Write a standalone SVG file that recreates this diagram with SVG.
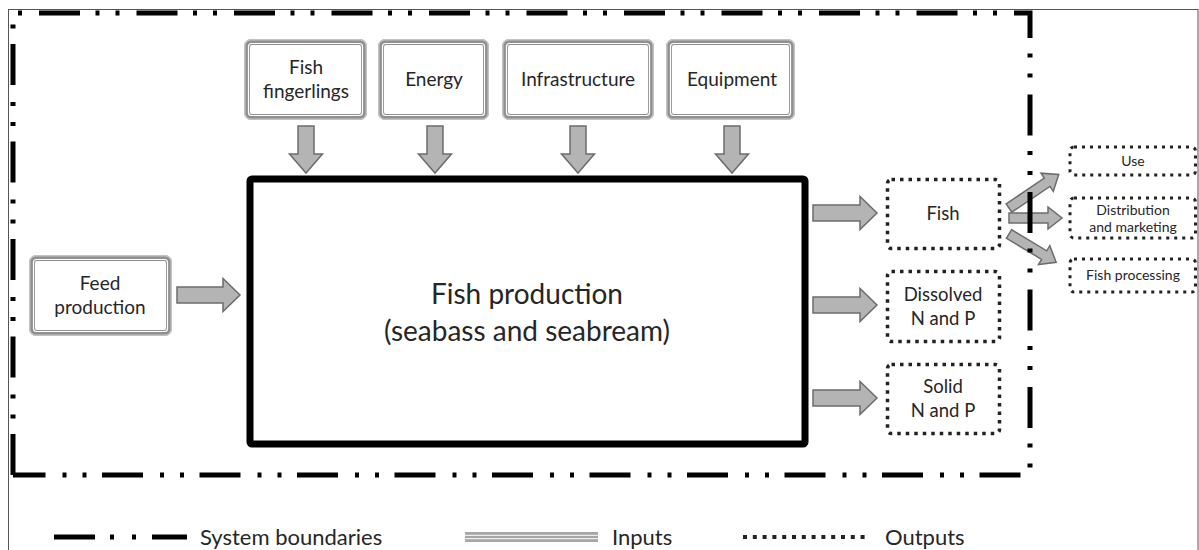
<svg xmlns="http://www.w3.org/2000/svg" width="1199" height="550" viewBox="0 0 1199 550">
<style>
  text { font-family: Lato, "Open Sans", "Liberation Sans", sans-serif; fill: #262626; text-anchor: middle; }
  .t19 { font-size: 19px; }
  .t18 { font-size: 18.5px; }
  .t14 { font-size: 14px; }
  .tmain { font-size: 28px; }
  .tleg { font-size: 22px; text-anchor: start; }
  .ibA { fill: #fff; stroke: #909090; stroke-width: 6; }
  .ibB { fill: none; stroke: #c2c2c2; stroke-width: 1.5; }
  .ibC { fill: none; stroke: #fff; stroke-width: 1.2; }
  .out { fill: #fff; stroke: #222; stroke-width: 3.5; stroke-dasharray: 3.5 5; }
  .outs { fill: #fff; stroke: #222; stroke-width: 3; stroke-dasharray: 3 5; }
  .arr { fill: #b4b4b4; stroke: #6c6c6c; stroke-width: 1.5; stroke-linejoin: miter; }
  .bnd { fill: none; stroke: #000; stroke-width: 5; stroke-dasharray: 41 15.5 4 16 4 17; }
</style>

<rect x="8.5" y="9.5" width="1189.5" height="560" fill="#fff" stroke="#555" stroke-width="1"/>

<g id="connectors">
  <polygon class="arr" points="298,126 314,126 314,154 322.5,154 306,173 289.5,154 298,154"/>
  <polygon class="arr" points="427,126 443,126 443,154 451.5,154 435,173 418.5,154 427,154"/>
  <polygon class="arr" points="570,126 586,126 586,154 594.5,154 578,173 561.5,154 570,154"/>
  <polygon class="arr" points="724,126 740,126 740,154 748.5,154 732,173 715.5,154 724,154"/>
  <polygon class="arr" points="177,287 223,287 223,278.5 240,295 223,311.5 223,303 177,303"/>
  <polygon class="arr" points="813,205 860,205 860,196.5 877,213 860,229.5 860,221 813,221"/>
  <polygon class="arr" points="813,297 860,297 860,288.5 877,305 860,321.5 860,313 813,313"/>
  <polygon class="arr" points="813,390 860,390 860,381.5 877,398 860,414.5 860,406 813,406"/>
  <polygon class="arr" transform="translate(1009,208) rotate(-34)" points="0,-5 46,-5 46,-11 60,0 46,11 46,5 0,5"/>
  <polygon class="arr" transform="translate(1009,218)" points="0,-5 39,-5 39,-11 53,0 39,11 39,5 0,5"/>
  <polygon class="arr" transform="translate(1009,234) rotate(31)" points="0,-5 41,-5 41,-11 55,0 41,11 41,5 0,5"/>
</g>

<g id="boundary">
  <path class="bnd" d="M13,13 H1030 V475 H13" stroke-dashoffset="71.5"/>
  <path class="bnd" d="M13,475 V13"/>
</g>

<g id="fish-fingerlings">
  <rect class="ibA" x="247" y="42" width="117" height="75" rx="5"/>
  <rect class="ibB" x="244.75" y="39.75" width="121.5" height="79.5" rx="6"/>
  <rect class="ibC" x="248.5" y="43.5" width="114" height="72" rx="3"/>
  <text class="t19" x="306" y="74">Fish</text>
  <text class="t19" x="306" y="98">fingerlings</text>
</g>
<g id="energy">
  <rect class="ibA" x="381" y="42" width="105" height="75" rx="5"/>
  <rect class="ibB" x="378.75" y="39.75" width="109.5" height="79.5" rx="6"/>
  <rect class="ibC" x="382.5" y="43.5" width="102" height="72" rx="3"/>
  <text class="t19" x="434" y="86">Energy</text>
</g>
<g id="infrastructure">
  <rect class="ibA" x="505" y="42" width="146" height="75" rx="5"/>
  <rect class="ibB" x="502.75" y="39.75" width="150.5" height="79.5" rx="6"/>
  <rect class="ibC" x="506.5" y="43.5" width="143" height="72" rx="3"/>
  <text class="t19" x="578" y="86">Infrastructure</text>
</g>
<g id="equipment">
  <rect class="ibA" x="669" y="42" width="123" height="75" rx="5"/>
  <rect class="ibB" x="666.75" y="39.75" width="127.5" height="79.5" rx="6"/>
  <rect class="ibC" x="670.5" y="43.5" width="120" height="72" rx="3"/>
  <text class="t19" x="732" y="86">Equipment</text>
</g>
<g id="feed-production">
  <rect class="ibA" x="32" y="258" width="137" height="75" rx="5"/>
  <rect class="ibB" x="29.75" y="255.75" width="141.5" height="79.5" rx="6"/>
  <rect class="ibC" x="33.5" y="259.5" width="134" height="72" rx="3"/>
  <text class="t19" x="100" y="290">Feed</text>
  <text class="t19" x="100" y="314">production</text>
</g>

<g id="fish-production">
  <rect x="250" y="179" width="555" height="265" fill="#fff" stroke="#000" stroke-width="7" rx="2"/>
  <text class="tmain" x="527" y="304">Fish production</text>
  <text class="tmain" x="527" y="341">(seabass and seabream)</text>
</g>

<g id="fish">
  <rect class="out" x="887.5" y="179.5" width="112" height="69" rx="4"/>
  <text class="t18" x="943" y="220">Fish</text>
</g>
<g id="dissolved">
  <rect class="out" x="887.5" y="271.5" width="112" height="70" rx="4"/>
  <text class="t18" x="943" y="301">Dissolved</text>
  <text class="t18" x="943" y="325">N and P</text>
</g>
<g id="solid">
  <rect class="out" x="887.5" y="364.5" width="112" height="69" rx="4"/>
  <text class="t18" x="943" y="393">Solid</text>
  <text class="t18" x="943" y="417">N and P</text>
</g>

<g id="use">
  <rect class="outs" x="1070" y="147" width="125.5" height="28" rx="4"/>
  <text class="t14" x="1133" y="166">Use</text>
</g>
<g id="distribution">
  <rect class="outs" x="1070" y="198" width="125.5" height="40" rx="4"/>
  <text class="t14" x="1133" y="215">Distribution</text>
  <text class="t14" x="1133" y="232">and marketing</text>
</g>
<g id="fish-processing">
  <rect class="outs" x="1070" y="259" width="125.5" height="33" rx="4"/>
  <text class="t14" x="1133" y="280">Fish processing</text>
</g>

<g id="legend">
  <path d="M54,537 H187" fill="none" stroke="#000" stroke-width="5" stroke-dasharray="41 15 4 18 4 16 35 100"/>
  <text class="tleg" x="200" y="545">System boundaries</text>
  <rect x="465" y="532" width="133" height="10" fill="#a6a6a6"/>
  <line x1="465" y1="535.3" x2="598" y2="535.3" stroke="#fff" stroke-width="1"/>
  <line x1="465" y1="538.7" x2="598" y2="538.7" stroke="#fff" stroke-width="1"/>
  <text class="tleg" x="612" y="545">Inputs</text>
  <path d="M743,537 H870" fill="none" stroke="#222" stroke-width="4" stroke-dasharray="4 5.8"/>
  <text class="tleg" x="885" y="545">Outputs</text>
</g>
</svg>
